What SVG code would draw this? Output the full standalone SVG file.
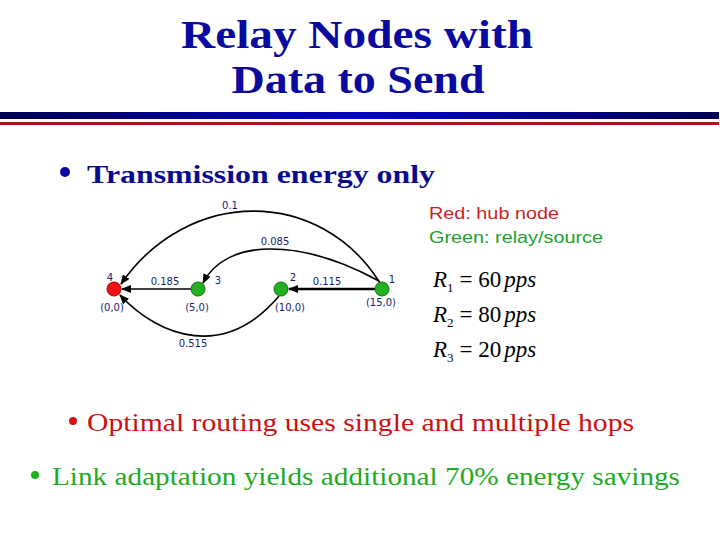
<svg xmlns="http://www.w3.org/2000/svg" width="720" height="540" viewBox="0 0 720 540">
<defs>
<linearGradient id="bar" x1="0" y1="0" x2="1" y2="0">
<stop offset="0" stop-color="#000050"/>
<stop offset="0.5" stop-color="#0000c8"/>
<stop offset="1" stop-color="#000050"/>
</linearGradient>
<marker id="arr" markerUnits="userSpaceOnUse" markerWidth="10" markerHeight="8" refX="9" refY="4" orient="auto">
<path d="M0,0 L10,4 L0,8 z" fill="#000"/>
</marker>
<style>
.title{font-family:"Liberation Serif",serif;font-weight:bold;font-size:40px;fill:#0a0aa0;text-anchor:middle}
.lbl{font-family:"DejaVu Sans","Liberation Sans",sans-serif;font-size:10px;fill:#1a1a70;text-anchor:middle}
.edge{fill:none;stroke:#000;stroke-width:1.6;marker-end:url(#arr)}
.node{stroke-width:1}
.math{font-family:"Liberation Serif",serif;font-size:23px;fill:#000}
.it{font-style:italic}
.sub{font-size:13px}
</style>
</defs>
<rect width="720" height="540" fill="#fff"/>
<text class="title" x="357" y="48" textLength="352" lengthAdjust="spacingAndGlyphs">Relay Nodes with</text>
<text class="title" x="358" y="93" textLength="253" lengthAdjust="spacingAndGlyphs">Data to Send</text>
<rect x="0" y="112" width="719" height="7" fill="url(#bar)"/>
<rect x="0" y="122" width="719" height="3" fill="#a01820"/>
<circle cx="65" cy="172" r="5" fill="#0a0aa0"/>
<text x="87" y="183" font-family="Liberation Serif, serif" font-weight="bold" font-size="25" fill="#0a0a90" textLength="348" lengthAdjust="spacingAndGlyphs">Transmission energy only</text>
<text x="429" y="219" font-family="Liberation Sans, sans-serif" font-size="17" fill="#cc1f1f" textLength="130" lengthAdjust="spacingAndGlyphs">Red: hub node</text>
<text x="429" y="243" font-family="Liberation Sans, sans-serif" font-size="17" fill="#20a030" textLength="174" lengthAdjust="spacingAndGlyphs">Green: relay/source</text>
<g id="connectors">
<path id="e1-4" class="edge" d="M380,283 C320,187 188,187 121,284"/>
<path id="e1-3" class="edge" d="M379,281 C300,238 226,238 203,283"/>
<path id="e3-4" class="edge" d="M191,289 L122,289"/>
<path id="e1-2" class="edge" style="stroke-width:2.6" d="M375,289 L289,289"/>
<path id="e2-4" class="edge" d="M279,296 C225,360 160,338 120,295"/>
</g>
<g id="node4"><circle class="node" cx="114" cy="289" r="7" fill="#ee1111" stroke="#a00"/><text class="lbl" x="110" y="281">4</text><text class="lbl" x="112" y="311">(0,0)</text></g>
<g id="node3"><circle class="node" cx="198" cy="289" r="7" fill="#22b022" stroke="#107010"/><text class="lbl" x="218" y="284">3</text><text class="lbl" x="197" y="311">(5,0)</text></g>
<g id="node2"><circle class="node" cx="281" cy="289" r="7" fill="#22b022" stroke="#107010"/><text class="lbl" x="293" y="281">2</text><text class="lbl" x="290" y="311">(10,0)</text></g>
<g id="node1"><circle class="node" cx="382" cy="289" r="7" fill="#22b022" stroke="#107010"/><text class="lbl" x="392" y="283">1</text><text class="lbl" x="381" y="306">(15,0)</text></g>
<g id="edge-labels">
<text class="lbl" x="230" y="209">0.1</text>
<text class="lbl" x="275" y="245">0.085</text>
<text class="lbl" x="165" y="285">0.185</text>
<text class="lbl" x="327" y="285">0.115</text>
<text class="lbl" x="193" y="347">0.515</text>
</g>
<text class="math" x="433" y="287"><tspan class="it">R</tspan><tspan class="sub" dy="5">1</tspan><tspan dy="-5" dx="6">= 60</tspan><tspan class="it" dx="3">pps</tspan></text>
<text class="math" x="433" y="322"><tspan class="it">R</tspan><tspan class="sub" dy="5">2</tspan><tspan dy="-5" dx="6">= 80</tspan><tspan class="it" dx="3">pps</tspan></text>
<text class="math" x="433" y="357"><tspan class="it">R</tspan><tspan class="sub" dy="5">3</tspan><tspan dy="-5" dx="6">= 20</tspan><tspan class="it" dx="3">pps</tspan></text>
<circle cx="73" cy="421" r="4" fill="#dd1010"/>
<text x="87" y="431" font-family="Liberation Serif, serif" font-size="26" fill="#cc1111" textLength="547" lengthAdjust="spacingAndGlyphs">Optimal routing uses single and multiple hops</text>
<circle cx="35" cy="475" r="4" fill="#20b020"/>
<text x="52" y="485" font-family="Liberation Serif, serif" font-size="26" fill="#22aa22" textLength="628" lengthAdjust="spacingAndGlyphs">Link adaptation yields additional 70% energy savings</text>
</svg>
